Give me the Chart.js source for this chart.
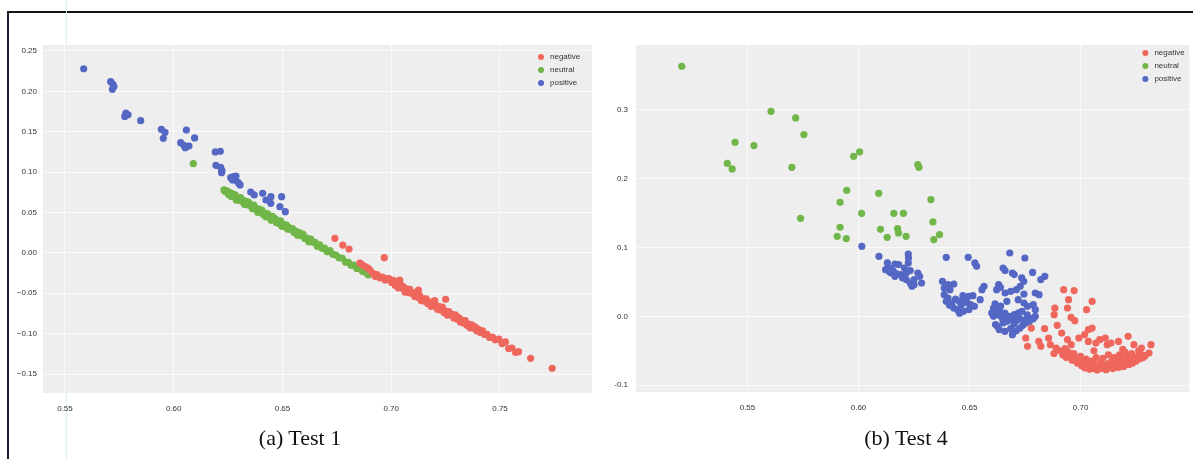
<!DOCTYPE html>
<html lang="en">
<head>
<meta charset="UTF-8">
<title>Test 1 / Test 4 scatter</title>
<script src="https://cdn.jsdelivr.net/npm/chart.js@4"></script>
<style>
  body { margin: 0; background: #fff; width: 1193px; height: 459px; overflow: hidden; position: relative; }
  canvas { position: absolute; }
  .frame { position: absolute; left: 7px; top: 11px; width: 1190px; height: 460px;
           border-top: 2px solid #141414; border-left: 2px solid #1a1a3a; }
  .scanline { position: absolute; left: 66px; top: 0; width: 1px; height: 459px; background: #d6f2f7; }
  .caption { position: absolute; top: 425px; font-family: 'Liberation Serif', 'DejaVu Serif', serif;
             font-size: 22px; color: #111; transform: translateX(-50%); white-space: nowrap; }
</style>
</head>
<body>
<div class="frame"></div>
<div class="scanline"></div>
<canvas id="test1" width="600" height="400" style="left:0;top:30px"></canvas>
<canvas id="test4" width="593" height="400" style="left:600px;top:30px"></canvas>
<div class="caption" style="left:300px">(a) Test 1</div>
<div class="caption" style="left:906px">(b) Test 4</div>

<script>
// series labels and colours
const seriesLabels = ['negative', 'neutral', 'positive'];
const seriesColors = ['#ef675c', '#70b648', '#5567c4'];

// ---- Test 1 ----
const test1XTicks = [0.55, 0.60, 0.65, 0.70, 0.75];
const test1XLabels = ['0.55', '0.60', '0.65', '0.70', '0.75'];
const test1YTicks = [0.25, 0.20, 0.15, 0.10, 0.05, 0.00, -0.05, -0.10, -0.15];
const test1YLabels = ['0.25', '0.20', '0.15', '0.10', '0.05', '0.00', '\u22120.05', '\u22120.10', '\u22120.15'];

const test1Negative = [
  [0.6741, 0.0180], [0.6777, 0.0097], [0.6806, 0.0048], [0.6968, -0.0060], [0.6856, -0.0126],
  [0.6868, -0.0150], [0.6880, -0.0170], [0.6893, -0.0190], [0.6902, -0.0212], [0.6916, -0.0255],
  [0.6926, -0.0290], [0.6935, -0.0270], [0.6948, -0.0310], [0.6960, -0.0300], [0.6972, -0.0336],
  [0.6980, -0.0320], [0.6990, -0.0319], [0.7002, -0.0367], [0.7010, -0.0339], [0.7018, -0.0401],
  [0.7025, -0.0382], [0.7033, -0.0434], [0.7040, -0.0374], [0.7039, -0.0336], [0.7048, -0.0436],
  [0.7055, -0.0417], [0.7063, -0.0484], [0.7070, -0.0444], [0.7078, -0.0491], [0.7085, -0.0452],
  [0.7093, -0.0499], [0.7100, -0.0494], [0.7108, -0.0541], [0.7115, -0.0492], [0.7125, -0.0460],
  [0.7123, -0.0549], [0.7130, -0.0529], [0.7138, -0.0591], [0.7145, -0.0567], [0.7153, -0.0599],
  [0.7160, -0.0569], [0.7168, -0.0626], [0.7175, -0.0607], [0.7183, -0.0664], [0.7190, -0.0609],
  [0.7200, -0.0592], [0.7198, -0.0656], [0.7205, -0.0647], [0.7213, -0.0699], [0.7220, -0.0664],
  [0.7228, -0.0706], [0.7235, -0.0672], [0.7243, -0.0739], [0.7250, -0.0575], [0.7250, -0.0720],
  [0.7258, -0.0772], [0.7265, -0.0727], [0.7273, -0.0769], [0.7280, -0.0760], [0.7288, -0.0807],
  [0.7295, -0.0767], [0.7303, -0.0819], [0.7310, -0.0800], [0.7318, -0.0857], [0.7325, -0.0832],
  [0.7333, -0.0869], [0.7340, -0.0840], [0.7348, -0.0897], [0.7355, -0.0882], [0.7363, -0.0929],
  [0.7370, -0.0890], [0.7378, -0.0932], [0.7385, -0.0917], [0.7393, -0.0964], [0.7400, -0.0945],
  [0.7410, -0.0985], [0.7420, -0.0965], [0.7430, -0.1010], [0.7440, -0.1010], [0.7452, -0.1048],
  [0.7465, -0.1043], [0.7478, -0.1077], [0.7495, -0.1068], [0.7510, -0.1125], [0.7525, -0.1103],
  [0.7540, -0.1185], [0.7555, -0.1178], [0.7572, -0.1233], [0.7585, -0.1223], [0.7641, -0.1306],
  [0.7740, -0.1430]
];

const test1Neutral = [
  [0.6090, 0.1104],
  [0.6231, 0.0780], [0.6238, 0.0757], [0.6245, 0.0768], [0.6251, 0.0727], [0.6257, 0.0746],
  [0.6263, 0.0700], [0.6269, 0.0734], [0.6276, 0.0696], [0.6282, 0.0718], [0.6288, 0.0654],
  [0.6294, 0.0686], [0.6300, 0.0652], [0.6307, 0.0683], [0.6313, 0.0642], [0.6319, 0.0651],
  [0.6325, 0.0601], [0.6331, 0.0638], [0.6337, 0.0598], [0.6343, 0.0629], [0.6350, 0.0587],
  [0.6356, 0.0595], [0.6362, 0.0547], [0.6368, 0.0593], [0.6374, 0.0543], [0.6380, 0.0552],
  [0.6387, 0.0501], [0.6393, 0.0542], [0.6399, 0.0508], [0.6405, 0.0530], [0.6411, 0.0478],
  [0.6417, 0.0491], [0.6423, 0.0448], [0.6430, 0.0486], [0.6436, 0.0447], [0.6442, 0.0458],
  [0.6448, 0.0403], [0.6454, 0.0453], [0.6460, 0.0414], [0.6466, 0.0423], [0.6472, 0.0377],
  [0.6479, 0.0397], [0.6485, 0.0365], [0.6491, 0.0397], [0.6497, 0.0329], [0.6503, 0.0354],
  [0.6510, 0.0328], [0.6517, 0.0346], [0.6524, 0.0293], [0.6531, 0.0313], [0.6538, 0.0289],
  [0.6546, 0.0302], [0.6553, 0.0253], [0.6561, 0.0269], [0.6569, 0.0219], [0.6577, 0.0250],
  [0.6585, 0.0213], [0.6594, 0.0231], [0.6603, 0.0178], [0.6612, 0.0184], [0.6621, 0.0135],
  [0.6630, 0.0170], [0.6640, 0.0132], [0.6650, 0.0129], [0.6660, 0.0081], [0.6671, 0.0100],
  [0.6682, 0.0057], [0.6693, 0.0058], [0.6705, 0.0013], [0.6718, 0.0028], [0.6731, -0.0018],
  [0.6745, -0.0026], [0.6760, -0.0059], [0.6775, -0.0067], [0.6790, -0.0115], [0.6803, -0.0116],
  [0.6815, -0.0152], [0.6828, -0.0152], [0.6842, -0.0192], [0.6855, -0.0198], [0.6868, -0.0229],
  [0.6882, -0.0243], [0.6895, -0.0273]
];

const test1Positive = [
  [0.5586, 0.2280], [0.5710, 0.2120], [0.5720, 0.2090], [0.5725, 0.2060], [0.5718, 0.2025],
  [0.5780, 0.1730], [0.5775, 0.1690], [0.5790, 0.1710], [0.5848, 0.1637], [0.5943, 0.1530],
  [0.5960, 0.1493], [0.5952, 0.1419], [0.6058, 0.1520], [0.6096, 0.1423], [0.6032, 0.1364],
  [0.6047, 0.1332], [0.6053, 0.1302], [0.6070, 0.1323], [0.6191, 0.1250], [0.6214, 0.1258],
  [0.6194, 0.1084], [0.6216, 0.1060], [0.6222, 0.1018], [0.6220, 0.0993], [0.6262, 0.0931],
  [0.6274, 0.0944], [0.6286, 0.0952], [0.6282, 0.0903], [0.6297, 0.0869], [0.6305, 0.0841],
  [0.6271, 0.0903], [0.6354, 0.0754], [0.6370, 0.0717], [0.6409, 0.0738], [0.6424, 0.0655],
  [0.6447, 0.0696], [0.6446, 0.0614], [0.6496, 0.0696], [0.6488, 0.0572], [0.6513, 0.0510]
];

// ---- Test 4 ----
const test4XTicks = [0.55, 0.60, 0.65, 0.70];
const test4XLabels = ['0.55', '0.60', '0.65', '0.70'];
const test4YTicks = [0.3, 0.2, 0.1, 0.0, -0.1];
const test4YLabels = ['0.3', '0.2', '0.1', '0.0', '-0.1'];

const test4Negative = [
  [0.6924, 0.0388], [0.6971, 0.0374], [0.6946, 0.0243], [0.6941, 0.0121], [0.7052, 0.0218],
  [0.7027, 0.0097], [0.6884, 0.0121], [0.6881, 0.0024], [0.6957, -0.0015], [0.6974, -0.0063],
  [0.6778, -0.0170], [0.6838, -0.0179], [0.6895, -0.0131], [0.6915, -0.0243], [0.6856, -0.0315],
  [0.6753, -0.0315], [0.6761, -0.0436], [0.6812, -0.0364], [0.6821, -0.0436], [0.6864, -0.0412],
  [0.6890, -0.0461], [0.6941, -0.0339], [0.6958, -0.0412], [0.6992, -0.0315], [0.7018, -0.0267],
  [0.7035, -0.0194], [0.7052, -0.0170], [0.7035, -0.0364], [0.7069, -0.0388], [0.7086, -0.0339],
  [0.7111, -0.0315], [0.7120, -0.0412], [0.7137, -0.0388], [0.7171, -0.0364], [0.7214, -0.0291],
  [0.7240, -0.0412], [0.7274, -0.0461], [0.7317, -0.0412], [0.7308, -0.0533],
  [0.6920, -0.0560], [0.6935, -0.0600], [0.6950, -0.0580], [0.6962, -0.0640], [0.6975, -0.0610],
  [0.6985, -0.0680], [0.6995, -0.0650], [0.7005, -0.0720], [0.7012, -0.0690], [0.7020, -0.0750],
  [0.7030, -0.0710], [0.7040, -0.0770], [0.7048, -0.0730], [0.7058, -0.0760], [0.7065, -0.0700],
  [0.7075, -0.0780], [0.7082, -0.0740], [0.7090, -0.0680], [0.7098, -0.0760], [0.7105, -0.0720],
  [0.7115, -0.0775], [0.7122, -0.0690], [0.7130, -0.0740], [0.7138, -0.0660], [0.7145, -0.0760],
  [0.7155, -0.0710], [0.7162, -0.0640], [0.7170, -0.0745], [0.7178, -0.0690], [0.7186, -0.0620],
  [0.7194, -0.0730], [0.7202, -0.0670], [0.7210, -0.0590], [0.7218, -0.0700], [0.7226, -0.0640],
  [0.7234, -0.0680], [0.7242, -0.0600], [0.7250, -0.0650], [0.7258, -0.0580], [0.7266, -0.0620],
  [0.7274, -0.0560], [0.7282, -0.0600], [0.7291, -0.0570],
  [0.6945, -0.0520], [0.6970, -0.0540], [0.7000, -0.0580], [0.7025, -0.0620], [0.7050, -0.0650],
  [0.7070, -0.0600], [0.7100, -0.0610], [0.7125, -0.0560], [0.7150, -0.0600], [0.7175, -0.0560],
  [0.7200, -0.0520], [0.7230, -0.0540], [0.6905, -0.0500], [0.6880, -0.0540], [0.6930, -0.0470],
  [0.7060, -0.0500], [0.7190, -0.0480], [0.7262, -0.0500]
];

const test4Neutral = [
  [0.5204, 0.3636], [0.5606, 0.2980], [0.5717, 0.2885], [0.5754, 0.2643], [0.5444, 0.2531],
  [0.5529, 0.2483], [0.5409, 0.2225], [0.5431, 0.2143], [0.5700, 0.2167], [0.5978, 0.2327],
  [0.6005, 0.2390], [0.6267, 0.2206], [0.6272, 0.2167], [0.5947, 0.1833], [0.6091, 0.1789],
  [0.6326, 0.1697], [0.5917, 0.1658], [0.6014, 0.1498], [0.6159, 0.1498], [0.6202, 0.1498],
  [0.5739, 0.1425], [0.6335, 0.1372], [0.5917, 0.1295], [0.6099, 0.1265], [0.6176, 0.1275],
  [0.5904, 0.1164], [0.5945, 0.1131], [0.6129, 0.1149], [0.6180, 0.1212], [0.6214, 0.1164],
  [0.6339, 0.1116], [0.6365, 0.1188]
];

const test4Positive = [
  // left group
  [0.6015, 0.1018], [0.6092, 0.0873], [0.6224, 0.0906], [0.6225, 0.0848], [0.6130, 0.0776],
  [0.6164, 0.0761], [0.6181, 0.0752], [0.6139, 0.0703], [0.6122, 0.0679], [0.6147, 0.0630],
  [0.6173, 0.0616], [0.6164, 0.0582], [0.6190, 0.0607], [0.6215, 0.0630], [0.6233, 0.0665],
  [0.6267, 0.0630], [0.6275, 0.0582], [0.6215, 0.0534], [0.6233, 0.0485], [0.6250, 0.0461],
  [0.6284, 0.0485], [0.6241, 0.0436], [0.6207, 0.0703], [0.6224, 0.0776], [0.6139, 0.0650],
  [0.6156, 0.0660], [0.6250, 0.0534], [0.6198, 0.0560],
  // middle group
  [0.6395, 0.0858], [0.6494, 0.0858], [0.6524, 0.0776], [0.6532, 0.0727], [0.6378, 0.0509],
  [0.6403, 0.0461], [0.6429, 0.0470], [0.6386, 0.0412], [0.6412, 0.0388], [0.6386, 0.0315],
  [0.6403, 0.0267], [0.6395, 0.0218], [0.6420, 0.0194], [0.6454, 0.0218], [0.6463, 0.0170],
  [0.6480, 0.0243], [0.6497, 0.0291], [0.6505, 0.0170], [0.6522, 0.0145], [0.6497, 0.0097],
  [0.6472, 0.0073], [0.6446, 0.0097], [0.6429, 0.0121], [0.6548, 0.0243], [0.6556, 0.0388],
  [0.6565, 0.0436], [0.6437, 0.0250], [0.6470, 0.0300], [0.6488, 0.0200], [0.6455, 0.0045],
  [0.6515, 0.0300], [0.6410, 0.0160],
  // right group
  [0.6681, 0.0921], [0.6749, 0.0848], [0.6651, 0.0703], [0.6660, 0.0665], [0.6693, 0.0630],
  [0.6701, 0.0607], [0.6735, 0.0558], [0.6744, 0.0509], [0.6784, 0.0639], [0.6821, 0.0534],
  [0.6839, 0.0582], [0.6631, 0.0461], [0.6639, 0.0422], [0.6622, 0.0388], [0.6660, 0.0339],
  [0.6685, 0.0364], [0.6711, 0.0388], [0.6728, 0.0436], [0.6745, 0.0325], [0.6796, 0.0339],
  [0.6813, 0.0315], [0.6668, 0.0218], [0.6719, 0.0243], [0.6745, 0.0194], [0.6761, 0.0145],
  [0.6796, 0.0097], [0.6787, 0.0170], [0.6608, 0.0121], [0.6617, 0.0073], [0.6634, 0.0097],
  [0.6608, 0.0000], [0.6625, 0.0024], [0.6642, 0.0000], [0.6659, 0.0048], [0.6676, 0.0000],
  [0.6685, -0.0034], [0.6668, -0.0073], [0.6693, -0.0048], [0.6710, -0.0063], [0.6727, -0.0034],
  [0.6744, -0.0063], [0.6761, -0.0048], [0.6778, -0.0034], [0.6796, 0.0000], [0.6701, 0.0024],
  [0.6719, 0.0048], [0.6736, 0.0073], [0.6625, -0.0145], [0.6634, -0.0194], [0.6659, -0.0218],
  [0.6685, -0.0179], [0.6693, -0.0267], [0.6727, -0.0170], [0.6651, -0.0097], [0.6753, -0.0097],
  [0.6770, -0.0073], [0.6787, -0.0034], [0.6617, -0.0120], [0.6700, -0.0110], [0.6740, -0.0130],
  [0.6710, -0.0210], [0.6650, -0.0050], [0.6760, 0.0020], [0.6640, 0.0150], [0.6615, 0.0180],
  [0.6600, 0.0050]
];

const tickFont = { family: "'Liberation Sans Narrow', 'Liberation Sans', Arial, sans-serif", size: 8 };

// grey plot background
const plotBackground = {
  id: 'plotBackground',
  beforeDraw(chart) {
    const a = chart.chartArea;
    const ctx = chart.ctx;
    ctx.save();
    ctx.fillStyle = '#eeeeee';
    ctx.fillRect(a.left, a.top, a.right - a.left, a.bottom - a.top);
    ctx.restore();
  }
};

// small legend in the top right corner of the plot
const cornerLegend = {
  id: 'cornerLegend',
  afterDraw(chart, args, opts) {
    const a = chart.chartArea;
    const ctx = chart.ctx;
    ctx.save();
    ctx.font = `8px ${tickFont.family}`;
    ctx.textBaseline = 'middle';
    chart.data.datasets.forEach((ds, i) => {
      const y = a.top + opts.top + i * 13;
      const x = a.right - opts.right;
      ctx.fillStyle = ds.backgroundColor;
      ctx.beginPath();
      ctx.arc(x, y, 3, 0, Math.PI * 2);
      ctx.fill();
      ctx.fillStyle = '#333';
      ctx.fillText(ds.label, x + 9, y);
    });
    ctx.restore();
  }
};

function toPoints(arr) {
  return arr.map(p => ({ x: p[0], y: p[1] }));
}

function makeChart(id, series, cfg) {
  const ctx = document.getElementById(id).getContext('2d');
  return new Chart(ctx, {
    type: 'scatter',
    data: {
      datasets: series.map((s, i) => ({
        label: seriesLabels[i],
        data: toPoints(s),
        backgroundColor: seriesColors[i],
        borderWidth: 0,
        pointRadius: 3.6,
        pointHoverRadius: 3.6
      }))
    },
    options: {
      responsive: false,
      animation: false,
      devicePixelRatio: 1,
      layout: { padding: { top: 15, right: cfg.padRight, left: 0, bottom: 0 } },
      plugins: {
        legend: { display: false },
        tooltip: { enabled: false },
        cornerLegend: { top: cfg.legendTop, right: cfg.legendRight }
      },
      scales: {
        x: {
          type: 'linear',
          min: cfg.xMin,
          max: cfg.xMax,
          afterBuildTicks: scale => { scale.ticks = cfg.xTicks.map(v => ({ value: v })); },
          afterFit: scale => { scale.height = cfg.xHeight; },
          ticks: {
            autoSkip: false,
            maxRotation: 0,
            padding: 11,
            color: '#333',
            font: tickFont,
            callback: (v, i) => cfg.xLabels[i]
          },
          grid: { color: 'rgba(255,255,255,0.7)', drawTicks: false },
          border: { display: false }
        },
        y: {
          type: 'linear',
          min: cfg.yMin,
          max: cfg.yMax,
          afterBuildTicks: scale => { scale.ticks = cfg.yTicks.map(v => ({ value: v })); },
          afterFit: scale => { scale.width = cfg.yWidth; },
          ticks: {
            autoSkip: false,
            padding: cfg.yPad,
            color: '#333',
            font: tickFont,
            callback: (v, i) => cfg.yLabels[i]
          },
          grid: { color: 'rgba(255,255,255,0.7)', drawTicks: false },
          border: { display: false }
        }
      }
    },
    plugins: [plotBackground, cornerLegend]
  });
}

makeChart('test1', [test1Negative, test1Neutral, test1Positive], {
  xMin: 0.5399, xMax: 0.7923, yMin: -0.1735, yMax: 0.2574,
  xTicks: test1XTicks, xLabels: test1XLabels, yTicks: test1YTicks, yLabels: test1YLabels,
  xHeight: 37, yWidth: 43, yPad: 6, padRight: 8, legendTop: 12, legendRight: 51
});

makeChart('test4', [test4Negative, test4Neutral, test4Positive], {
  xMin: 0.4998, xMax: 0.7490, yMin: -0.1100, yMax: 0.3945,
  xTicks: test4XTicks, xLabels: test4XLabels, yTicks: test4YTicks, yLabels: test4YLabels,
  xHeight: 38, yWidth: 36, yPad: 8, padRight: 0, legendTop: 8, legendRight: 44
});
</script>
</body>
</html>
